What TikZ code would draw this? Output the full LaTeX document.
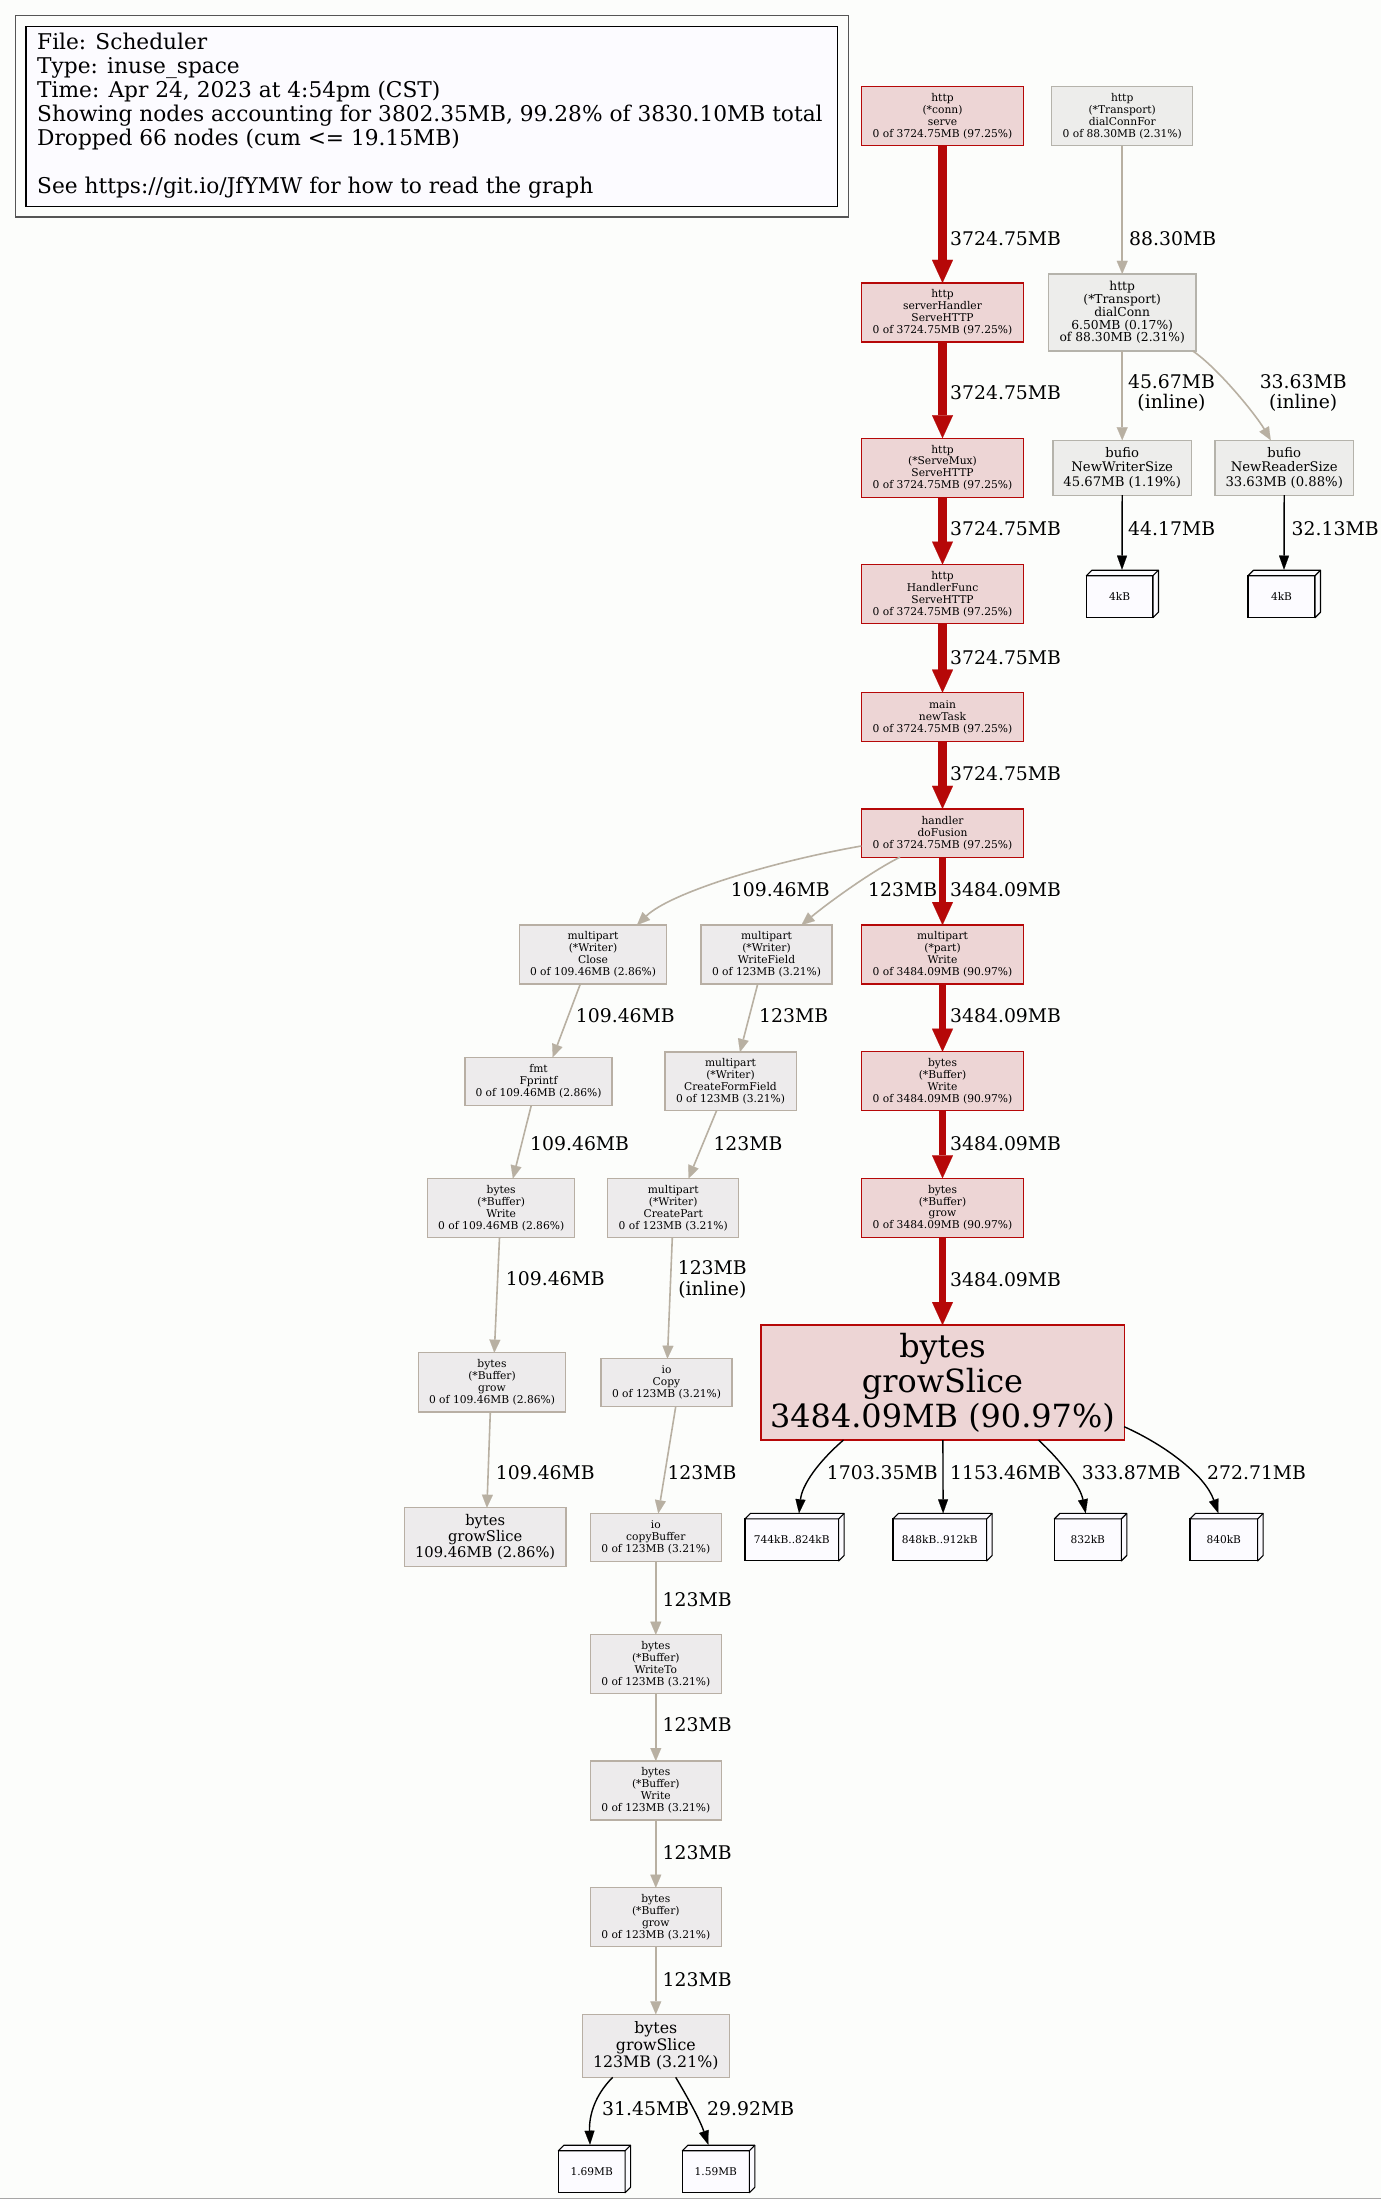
\documentclass[tikz,border=0pt]{standalone}
\usepackage{fontspec}
\setmainfont{DejaVu Serif}
\usetikzlibrary{arrows.meta,calc}

\definecolor{bg}{RGB}{252,253,251}
\definecolor{hotfill}{RGB}{237,213,213}
\definecolor{hotline}{RGB}{182,8,8}
\definecolor{coldfill}{RGB}{237,235,236}
\definecolor{coldline}{RGB}{184,175,164}
\definecolor{netfill}{RGB}{237,237,235}
\definecolor{netline}{RGB}{181,179,171}
\definecolor{legendfill}{RGB}{252,251,255}
\definecolor{edgegray}{RGB}{184,176,162}
\definecolor{framegray}{RGB}{85,85,85}

% side and top faces of a 3-D tag box
\newcommand\cubefaces[1]{%
  \filldraw[draw=black, fill=legendfill, line width=1.1pt, line join=round]
    (#1.north west) -- ++(5.5,-5.5) -- ([shift={(5.5,-5.5)}]#1.north east)
    -- ([shift={(5.5,-5.5)}]#1.south east) -- (#1.south east) -- (#1.north east) -- cycle;
  \draw[line width=1.1pt] (#1.north east) -- ++(5.5,-5.5);}

\tikzset{
  fn/.style={rectangle, inner sep=0pt, outer sep=0pt, line width=1.3pt, align=center},
  hot/.style={fn, draw=hotline, fill=hotfill},
  cold/.style={fn, draw=coldline, fill=coldfill},
  net/.style={fn, draw=netline, fill=netfill},
  small/.style={font=\fontsize{10.7}{11.9}\selectfont},
  tag/.style={rectangle, draw=black, fill=legendfill, line width=1.1pt, inner sep=0pt,
    outer sep=0pt, minimum height=42pt, font=\fontsize{10.6}{11}\selectfont},
  lbl/.style={inner sep=0pt, anchor=west, font=\fontsize{18.8}{20.3}\selectfont},
  lblc/.style={inner sep=0pt, align=center, font=\fontsize{18.8}{20.3}\selectfont},
  hotedge/.style={draw=hotline, line width=#1,
    -{Triangle[length=23pt, width=21pt, line width=0.1pt]}},
  coldedge/.style={draw=edgegray, line width=1.6pt,
    -{Triangle[length=13pt, width=11pt, line width=0.1pt]}},
  tagedge/.style={draw=black, line width=1.4pt,
    -{Triangle[length=14pt, width=10pt, line width=0.1pt]}},
}

\begin{document}
\begin{tikzpicture}[x=1pt, y=-1pt]
\path[use as bounding box, fill=bg] (0,0) rectangle (1381,2199);
\draw[gray!70, line width=1.5pt] (0,2198.3) -- (1381,2198.3);

% legend
\draw[framegray, line width=1.5pt] (15.7,15.7) rectangle (848.6,217);
\draw[black, fill=legendfill, line width=1.5pt] (26,26.7) rectangle (837.6,206.7);
\node[anchor=north west, inner sep=0pt, align=left, font=\fontsize{21.7}{24}\selectfont] (legend) at (37,33)
  {File: Scheduler\\Type: inuse\_space\\Time: Apr 24, 2023 at 4:54pm (CST)\\
   Showing nodes accounting for 3802.35MB, 99.28\% of 3830.10MB total\\
   Dropped 66 nodes (cum <= 19.15MB)\\[24pt]
   See https://git.io/JfYMW for how to read the graph};

% hot path
\node[hot, small, minimum width=162.3pt, minimum height=59pt] (serve) at (942.5,116.2)
  {http\\(*conn)\\serve\\0 of 3724.75MB (97.25\%)};
\node[hot, small, minimum width=162.3pt, minimum height=59pt] (shandler) at (942.5,312.4)
  {http\\serverHandler\\ServeHTTP\\0 of 3724.75MB (97.25\%)};
\node[hot, small, minimum width=162.3pt, minimum height=59pt] (servemux) at (942.5,467.7)
  {http\\(*ServeMux)\\ServeHTTP\\0 of 3724.75MB (97.25\%)};
\node[hot, small, minimum width=162.3pt, minimum height=59pt] (hfunc) at (942.5,594)
  {http\\HandlerFunc\\ServeHTTP\\0 of 3724.75MB (97.25\%)};
\node[hot, small, minimum width=162.3pt, minimum height=48.7pt] (newtask) at (942.5,717)
  {main\\newTask\\0 of 3724.75MB (97.25\%)};
\node[hot, small, minimum width=162.3pt, minimum height=48.3pt] (dofusion) at (942.5,833)
  {handler\\doFusion\\0 of 3724.75MB (97.25\%)};
\node[hot, small, minimum width=162.3pt, minimum height=59pt] (partwrite) at (942.5,954.5)
  {multipart\\(*part)\\Write\\0 of 3484.09MB (90.97\%)};
\node[hot, small, minimum width=162.3pt, minimum height=59pt] (bufwrite) at (942.5,1081.2)
  {bytes\\(*Buffer)\\Write\\0 of 3484.09MB (90.97\%)};
\node[hot, small, minimum width=162.3pt, minimum height=59pt] (bufgrow) at (942.5,1207.8)
  {bytes\\(*Buffer)\\grow\\0 of 3484.09MB (90.97\%)};
\node[hot, font=\fontsize{31.9}{35}\selectfont, minimum width=363.3pt, minimum height=115pt] (slicebig) at (942.5,1382.5)
  {bytes\\growSlice\\3484.09MB (90.97\%)};

% transport branch
\node[net, small, minimum width=141pt, minimum height=59pt] (dialfor) at (1122.2,116.2)
  {http\\(*Transport)\\dialConnFor\\0 of 88.30MB (2.31\%)};
\node[net, font=\fontsize{12.3}{12.9}\selectfont, minimum width=147.7pt, minimum height=77pt] (dialconn) at (1122.2,312.4)
  {http\\(*Transport)\\dialConn\\6.50MB (0.17\%)\\of 88.30MB (2.31\%)};
\node[net, font=\fontsize{13.2}{14.6}\selectfont, minimum width=138.5pt, minimum height=55pt] (nwriter) at (1122.2,467.7)
  {bufio\\NewWriterSize\\45.67MB (1.19\%)};
\node[net, font=\fontsize{13.2}{14.6}\selectfont, minimum width=138.4pt, minimum height=55pt] (nreader) at (1284.2,467.7)
  {bufio\\NewReaderSize\\33.63MB (0.88\%)};

% multipart writer branches
\node[cold, small, minimum width=147.4pt, minimum height=59pt] (close) at (593,954.5)
  {multipart\\(*Writer)\\Close\\0 of 109.46MB (2.86\%)};
\node[cold, small, minimum width=131pt, minimum height=59pt] (wfield) at (766.5,954.5)
  {multipart\\(*Writer)\\WriteField\\0 of 123MB (3.21\%)};
\node[cold, small, minimum width=147pt, minimum height=48pt] (fprintf) at (538.5,1081.3)
  {fmt\\Fprintf\\0 of 109.46MB (2.86\%)};
\node[cold, small, minimum width=131.3pt, minimum height=58.3pt] (cff) at (730.5,1081.2)
  {multipart\\(*Writer)\\CreateFormField\\0 of 123MB (3.21\%)};
\node[cold, small, minimum width=147pt, minimum height=59pt] (bwrite1) at (501.2,1208)
  {bytes\\(*Buffer)\\Write\\0 of 109.46MB (2.86\%)};
\node[cold, small, minimum width=131pt, minimum height=59pt] (cpart) at (673.2,1208)
  {multipart\\(*Writer)\\CreatePart\\0 of 123MB (3.21\%)};
\node[cold, small, minimum width=146.7pt, minimum height=59.3pt] (bgrow1) at (492,1382.3)
  {bytes\\(*Buffer)\\grow\\0 of 109.46MB (2.86\%)};
\node[cold, small, minimum width=131pt, minimum height=48pt] (iocopy) at (666.5,1382.7)
  {io\\Copy\\0 of 123MB (3.21\%)};
\node[cold, font=\fontsize{14.7}{15.8}\selectfont, minimum width=161.7pt, minimum height=59pt] (slice1) at (485.2,1537.2)
  {bytes\\growSlice\\109.46MB (2.86\%)};
\node[cold, small, minimum width=131pt, minimum height=48pt] (cbuf) at (655.8,1537.3)
  {io\\copyBuffer\\0 of 123MB (3.21\%)};
\node[cold, small, minimum width=131pt, minimum height=58.6pt] (wto) at (655.8,1664)
  {bytes\\(*Buffer)\\WriteTo\\0 of 123MB (3.21\%)};
\node[cold, small, minimum width=131pt, minimum height=59pt] (bwrite2) at (655.8,1790.5)
  {bytes\\(*Buffer)\\Write\\0 of 123MB (3.21\%)};
\node[cold, small, minimum width=131pt, minimum height=59pt] (bgrow2) at (655.8,1917.2)
  {bytes\\(*Buffer)\\grow\\0 of 123MB (3.21\%)};
\node[cold, font=\fontsize{15.8}{16.7}\selectfont, minimum width=147pt, minimum height=63pt] (slice2) at (655.8,2045.8)
  {bytes\\growSlice\\123MB (3.21\%)};

% allocation size tags
\node[tag, minimum width=66.6pt] (t4a) at (1119.7,596.7) {4kB};
\node[tag, minimum width=67pt] (t4b) at (1281.5,596.7) {4kB};
\node[tag, minimum width=93.7pt] (t744) at (791.8,1539.9) {744kB..824kB};
\node[tag, minimum width=93.7pt] (t848) at (939.8,1539.9) {848kB..912kB};
\node[tag, minimum width=67pt] (t832) at (1087.8,1539.9) {832kB};
\node[tag, minimum width=67.6pt] (t840) at (1223.8,1539.9) {840kB};
\node[tag, minimum width=66.7pt] (t169) at (591.7,2171.7) {1.69MB};
\node[tag, minimum width=67pt] (t159) at (715.8,2171.7) {1.59MB};
\foreach \t in {t4a,t4b,t744,t848,t832,t840,t169,t159} {\cubefaces{\t}}

% hot path edges
\draw[hotedge=8.3pt] (serve) -- (shandler);
\draw[hotedge=8.3pt] (shandler) -- (servemux);
\draw[hotedge=8.3pt] (servemux) -- (hfunc);
\draw[hotedge=8.3pt] (hfunc) -- (newtask);
\draw[hotedge=8.3pt] (newtask) -- (dofusion);
\draw[hotedge=7.8pt] (dofusion) -- (partwrite);
\draw[hotedge=7.8pt] (partwrite) -- (bufwrite);
\draw[hotedge=7.8pt] (bufwrite) -- (bufgrow);
\draw[hotedge=7.8pt] (bufgrow) -- (slicebig);

\node[lbl] (l1) at (950,239) {3724.75MB};
\node[lbl] (l2) at (950,393) {3724.75MB};
\node[lbl] (l3) at (950,529) {3724.75MB};
\node[lbl] (l4) at (950,657.3) {3724.75MB};
\node[lbl] (l5) at (950,773.3) {3724.75MB};
\node[lbl] (l6) at (950,889.3) {3484.09MB};
\node[lbl] (l7) at (950,1016) {3484.09MB};
\node[lbl] (l8) at (950,1143.3) {3484.09MB};
\node[lbl] (l9) at (950,1279.3) {3484.09MB};

% transport edges
\draw[coldedge] (dialfor) -- (dialconn);
\draw[coldedge] (dialconn) -- (nwriter);
\draw[coldedge] ([xshift=-3.4pt]dialconn.south east) .. controls (1218,368) and (1256,415) .. ([xshift=-13.5pt]nreader.north);
\draw[tagedge] (nwriter.south) -- ([shift={(2.3,-6)}]t4a.north);
\draw[tagedge] (nreader.south) -- ([shift={(2.5,-6)}]t4b.north);
\node[lbl] (l10) at (1129,239) {88.30MB};
\node[lblc] (l11) at (1171.5,393) {45.67MB\\(inline)};
\node[lblc] (l12) at (1303.2,393) {33.63MB\\(inline)};
\node[lbl] (l13) at (1128,529) {44.17MB};
\node[lbl] (l14) at (1291.5,529) {32.13MB};

% writer edges
\draw[coldedge] ([yshift=-13pt]dofusion.west) .. controls (770,862) and (670,893) .. ([xshift=44pt]close.north);
\draw[coldedge] ([xshift=-42.5pt]dofusion.south) .. controls (872,871) and (828,903) .. ([xshift=35pt]wfield.north);
\draw[coldedge] ([xshift=-12.7pt]close.south) -- ([xshift=14.2pt]fprintf.north);
\draw[coldedge] ([xshift=-8.8pt]wfield.south) -- ([xshift=9.5pt]cff.north);
\draw[coldedge] ([xshift=-7.2pt]fprintf.south) -- ([xshift=11.7pt]bwrite1.north);
\draw[coldedge] ([xshift=-13.8pt]cff.south) -- ([xshift=15.3pt]cpart.north);
\draw[coldedge] ([xshift=-1.7pt]bwrite1.south) -- ([xshift=2.3pt]bgrow1.north);
\draw[coldedge] ([xshift=-0.9pt]cpart.south) -- ([xshift=0.9pt]iocopy.north);
\draw[coldedge] ([xshift=-1.7pt]bgrow1.south) -- ([xshift=1.7pt]slice1.north);
\draw[coldedge] ([xshift=9.2pt]iocopy.south) -- ([xshift=2.5pt]cbuf.north);
\draw[coldedge] (cbuf) -- (wto);
\draw[coldedge] (wto) -- (bwrite2);
\draw[coldedge] (bwrite2) -- (bgrow2);
\draw[coldedge] (bgrow2) -- (slice2);

\node[lbl] (l15) at (730.7,889.3) {109.46MB};
\node[lbl] (l16) at (868,889.3) {123MB};
\node[lbl] (l17) at (575.7,1016) {109.46MB};
\node[lbl] (l18) at (759,1016) {123MB};
\node[lbl] (l19) at (530,1143.3) {109.46MB};
\node[lbl] (l20) at (713.3,1143.3) {123MB};
\node[lbl] (l21) at (505.7,1279) {109.46MB};
\node[lblc] (l22) at (712.3,1279.5) {123MB\\(inline)};
\node[lbl] (l23) at (495.7,1472.3) {109.46MB};
\node[lbl] (l24) at (667.3,1472.3) {123MB};
\node[lbl] (l25) at (662.5,1599.3) {123MB};
\node[lbl] (l26) at (662.5,1725) {123MB};
\node[lbl] (l27) at (662.5,1852.7) {123MB};
\node[lbl] (l28) at (662.5,1979.3) {123MB};

% size tag edges
\draw[tagedge] ([xshift=-99pt]slicebig.south) .. controls (818,1462) and (802,1485) .. ([shift={(7.2,-5.6)}]t744.north);
\draw[tagedge] ([xshift=0.4pt]slicebig.south) -- ([shift={(3.3,-5.6)}]t848.north);
\draw[tagedge] ([xshift=96pt]slicebig.south) .. controls (1060,1460) and (1080,1485) .. ([shift={(-2.1,-5.6)}]t832.north);
\draw[tagedge] ([yshift=-44.2pt]slicebig.east) .. controls (1165,1445) and (1205,1475) .. ([shift={(-5.4,-5.6)}]t840.north);
\draw[tagedge] ([xshift=-43.1pt]slice2.south) .. controls (595,2095) and (589,2115) .. ([shift={(-1.7,-6)}]t169.north);
\draw[tagedge] ([xshift=19.9pt]slice2.south) .. controls (688,2098) and (700,2120) .. ([shift={(-7.5,-6)}]t159.north);

\node[lbl] (l29) at (826.7,1472.7) {1703.35MB};
\node[lbl] (l30) at (950,1472.7) {1153.46MB};
\node[lbl] (l31) at (1081.7,1472.7) {333.87MB};
\node[lbl] (l32) at (1207,1472.7) {272.71MB};
\node[lbl] (l33) at (602,2109) {31.45MB};
\node[lbl] (l34) at (707,2109) {29.92MB};
\end{tikzpicture}
\end{document}
